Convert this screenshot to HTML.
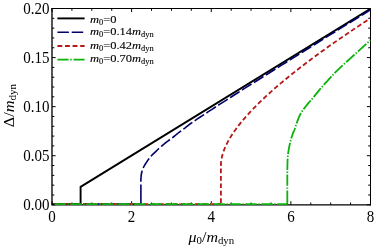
<!DOCTYPE html>
<html><head><meta charset="utf-8"><style>
html,body{margin:0;padding:0;background:#fff;}
svg{display:block;will-change:transform;font-family:"Liberation Serif",serif;}
</style></head><body>
<svg width="374" height="248" viewBox="0 0 374 248">
<rect width="374" height="248" fill="#fff"/>
<path d="M52.0 8.5 H370.5 V204.8" fill="none" stroke="#000" stroke-width="1.0" stroke-linecap="square"/>
<path d="M52.0 8.0 V204.8 H371.0" fill="none" stroke="#000" stroke-width="1.33"/>
<path d="M52.00 204.80 v-3.60 M52.00 8.50 v3.60 M71.91 204.80 v-2.30 M71.91 8.50 v2.30 M91.81 204.80 v-2.30 M91.81 8.50 v2.30 M111.72 204.80 v-2.30 M111.72 8.50 v2.30 M131.62 204.80 v-3.60 M131.62 8.50 v3.60 M151.53 204.80 v-2.30 M151.53 8.50 v2.30 M171.44 204.80 v-2.30 M171.44 8.50 v2.30 M191.34 204.80 v-2.30 M191.34 8.50 v2.30 M211.25 204.80 v-3.60 M211.25 8.50 v3.60 M231.16 204.80 v-2.30 M231.16 8.50 v2.30 M251.06 204.80 v-2.30 M251.06 8.50 v2.30 M270.97 204.80 v-2.30 M270.97 8.50 v2.30 M290.88 204.80 v-3.60 M290.88 8.50 v3.60 M310.78 204.80 v-2.30 M310.78 8.50 v2.30 M330.69 204.80 v-2.30 M330.69 8.50 v2.30 M350.59 204.80 v-2.30 M350.59 8.50 v2.30 M370.50 204.80 v-3.60 M370.50 8.50 v3.60 M52.00 204.80 h3.60 M370.50 204.80 h-3.60 M52.00 194.99 h2.30 M370.50 194.99 h-2.30 M52.00 185.17 h2.30 M370.50 185.17 h-2.30 M52.00 175.36 h2.30 M370.50 175.36 h-2.30 M52.00 165.54 h2.30 M370.50 165.54 h-2.30 M52.00 155.73 h3.60 M370.50 155.73 h-3.60 M52.00 145.91 h2.30 M370.50 145.91 h-2.30 M52.00 136.10 h2.30 M370.50 136.10 h-2.30 M52.00 126.28 h2.30 M370.50 126.28 h-2.30 M52.00 116.47 h2.30 M370.50 116.47 h-2.30 M52.00 106.65 h3.60 M370.50 106.65 h-3.60 M52.00 96.84 h2.30 M370.50 96.84 h-2.30 M52.00 87.02 h2.30 M370.50 87.02 h-2.30 M52.00 77.21 h2.30 M370.50 77.21 h-2.30 M52.00 67.39 h2.30 M370.50 67.39 h-2.30 M52.00 57.58 h3.60 M370.50 57.58 h-3.60 M52.00 47.76 h2.30 M370.50 47.76 h-2.30 M52.00 37.95 h2.30 M370.50 37.95 h-2.30 M52.00 28.13 h2.30 M370.50 28.13 h-2.30 M52.00 18.31 h2.30 M370.50 18.31 h-2.30 M52.00 8.50 h3.60 M370.50 8.50 h-3.60" stroke="#000" stroke-width="1.0" fill="none"/>
<clipPath id="c"><rect x="52.0" y="8.5" width="318.8" height="197.3"/></clipPath>
<g fill="none" stroke-linejoin="round" clip-path="url(#c)">
<path d="M52.00 204.10 L80.60 204.10 L80.60 186.90 L370.50 8.69" stroke="#000" stroke-width="1.9" stroke-linejoin="miter"/>
<path d="M54.60 204.10 L140.90 204.10" stroke="#00006c" stroke-width="1.6" stroke-dasharray="11.3 2.8"/>
<path d="M54.60 204.10 L220.90 204.10" stroke="#b41818" stroke-width="1.8" stroke-dasharray="4.7 2.7"/>
<path d="M140.90 204.10 L140.90 184.60" stroke="#00006c" stroke-width="1.6"/>
<path d="M140.90 184.60 L140.90 184.37 L140.88 183.77 L140.87 182.91 L140.87 181.92 L140.88 180.91 L140.90 180.00 L140.94 179.04 L140.98 178.05 L141.04 177.04 L141.13 176.01 L141.24 175.00 L141.40 174.00 L141.60 173.02 L141.83 172.04 L142.09 171.06 L142.39 170.10 L142.72 169.14 L143.10 168.20 L143.54 167.25 L144.02 166.31 L144.54 165.39 L145.10 164.47 L145.69 163.54 L146.30 162.60 L147.02 161.52 L147.78 160.40 L148.59 159.28 L149.41 158.18 L150.25 157.11 L151.10 156.10 L151.89 155.23 L152.70 154.41 L153.52 153.62 L154.35 152.84 L155.18 152.07 L156.00 151.30 L156.80 150.54 L157.59 149.78 L158.38 149.03 L159.17 148.28 L159.98 147.54 L160.80 146.80 L161.65 146.06 L162.51 145.32 L163.38 144.59 L164.27 143.86 L165.17 143.13 L166.10 142.40 L167.14 141.61 L168.21 140.82 L169.31 140.02 L170.42 139.23 L171.52 138.42 L172.60 137.60 L173.67 136.75 L174.74 135.88 L175.80 135.00 L176.86 134.12 L177.93 133.25 L179.00 132.40 L180.09 131.57 L181.20 130.75 L182.32 129.94 L183.42 129.14 L184.49 128.36 L185.50 127.60 L186.27 126.99 L186.98 126.41 L187.66 125.85 L188.36 125.27 L189.12 124.66 L190.00 124.00 L191.65 122.82 L193.56 121.50 L195.62 120.11 L197.77 118.68 L199.93 117.26 L202.00 115.88 L204.00 114.55 L205.99 113.23 L207.99 111.92 L209.99 110.61 L212.00 109.30 L214.00 108.00 L215.99 106.72 L217.96 105.45 L219.94 104.19 L221.93 102.92 L223.95 101.64 L226.00 100.32 L228.22 98.89 L230.44 97.47 L232.68 96.02 L234.99 94.53 L237.42 92.97 L240.00 91.32 L243.75 88.94 L247.80 86.38 L252.05 83.70 L256.40 80.96 L260.75 78.22 L265.00 75.55 L269.10 72.97 L273.11 70.45 L277.13 67.93 L281.23 65.36 L285.49 62.70 L290.00 59.88 L296.12 56.05 L302.63 51.99 L309.40 47.77 L316.30 43.47 L323.21 39.16 L330.00 34.94 L337.67 30.17 L346.48 24.69 L355.29 19.22 L362.99 14.45 L368.43 11.07 L370.50 9.79" stroke="#00006c" stroke-width="1.6" stroke-dasharray="11.3 2.8" stroke-dashoffset="11.3"/>
<path d="M220.90 204.10 L220.90 166.10 L221.00 162.97 L221.20 161.00 L221.50 159.04 L221.90 157.07 L222.40 155.06 L223.10 152.72 L223.90 150.42 L224.90 147.91 L225.90 145.65 L227.40 142.61 L228.90 139.84 L230.90 136.47 L232.90 133.37 L234.90 130.46 L237.90 126.38 L240.90 122.57 L244.90 117.81 L248.90 113.33 L252.90 109.08 L256.90 105.00 L260.90 101.08 L265.90 96.36 L270.90 91.81 L275.90 87.41 L280.90 83.13 L290.90 74.90 L300.90 67.01 L310.90 59.42 L320.90 52.07 L330.90 44.92 L340.90 37.96 L350.90 31.15 L360.90 24.48 L370.50 18.19" stroke="#b41818" stroke-width="1.8" stroke-dasharray="4.7 2.7" stroke-dashoffset="-1.2"/>
<path d="M54.60 204.10 L287.30 204.10" stroke="#0cb20c" stroke-width="1.8" stroke-dasharray="11.3 1.6 1.4 1.6"/>
<path d="M287.30 204.10 L287.30 190.40" stroke="#0cb20c" stroke-width="1.8"/>
<path d="M287.30 190.40 L287.30 190.31 L287.30 190.04 L287.30 189.65 L287.30 189.16 L287.30 188.59 L287.30 188.00 L287.30 185.56 L287.30 182.10 L287.30 178.05 L287.31 173.79 L287.34 169.74 L287.40 166.30 L287.45 164.25 L287.50 162.34 L287.56 160.53 L287.64 158.79 L287.75 157.09 L287.90 155.40 L288.06 153.91 L288.25 152.46 L288.47 151.03 L288.70 149.64 L288.94 148.26 L289.20 146.90 L289.45 145.66 L289.71 144.45 L289.98 143.26 L290.27 142.07 L290.57 140.89 L290.90 139.70 L291.27 138.43 L291.67 137.11 L292.10 135.79 L292.52 134.53 L292.93 133.38 L293.30 132.40 L293.49 131.94 L293.67 131.55 L293.85 131.21 L294.02 130.86 L294.20 130.47 L294.40 130.00 L294.79 128.94 L295.20 127.69 L295.64 126.30 L296.11 124.85 L296.60 123.39 L297.10 122.00 L297.63 120.60 L298.17 119.19 L298.72 117.78 L299.32 116.37 L299.97 114.98 L300.70 113.60 L301.57 112.15 L302.53 110.72 L303.55 109.30 L304.62 107.90 L305.71 106.50 L306.80 105.10 L307.95 103.67 L309.13 102.26 L310.34 100.85 L311.57 99.44 L312.79 98.03 L314.00 96.60 L315.22 95.12 L316.43 93.63 L317.64 92.13 L318.86 90.63 L320.07 89.15 L321.30 87.70 L322.49 86.33 L323.68 84.98 L324.88 83.65 L326.09 82.33 L327.29 81.02 L328.50 79.70 L329.68 78.41 L330.82 77.15 L331.96 75.90 L333.15 74.63 L334.42 73.30 L335.80 71.90 L337.90 69.85 L340.18 67.68 L342.61 65.42 L345.15 63.09 L347.76 60.71 L350.40 58.30 L354.02 55.01 L358.34 51.11 L362.75 47.14 L366.65 43.64 L369.44 41.15 L370.50 40.20" stroke="#0cb20c" stroke-width="1.8" stroke-dasharray="11.3 1.6 1.4 1.6" stroke-dashoffset="11.3"/>
</g>
<g font-size="15.7" fill="#000"><text transform="translate(52.0,222.3) scale(0.955,1)" text-anchor="middle">0</text><text transform="translate(131.6,222.3) scale(0.955,1)" text-anchor="middle">2</text><text transform="translate(211.2,222.3) scale(0.955,1)" text-anchor="middle">4</text><text transform="translate(290.9,222.3) scale(0.955,1)" text-anchor="middle">6</text><text transform="translate(370.5,222.3) scale(0.955,1)" text-anchor="middle">8</text><text transform="translate(49.6,209.9) scale(0.955,1)" text-anchor="end">0.00</text><text transform="translate(49.6,160.8) scale(0.955,1)" text-anchor="end">0.05</text><text transform="translate(49.6,111.8) scale(0.955,1)" text-anchor="end">0.10</text><text transform="translate(49.6,62.7) scale(0.955,1)" text-anchor="end">0.15</text><text transform="translate(49.6,13.6) scale(0.955,1)" text-anchor="end">0.20</text></g>
<path d="M57.4 18.4 H84.6" stroke="#000" stroke-width="1.9"  fill="none"/><text transform="translate(90,22.7) scale(1.135,1)" font-size="11" stroke="#000" stroke-width="0.1"><tspan font-style="italic">m</tspan><tspan font-size="7.4" dy="2">0</tspan><tspan dy="-2">=0</tspan></text><path d="M57.4 32.2 H84.6" stroke="#00006c" stroke-width="1.6" stroke-dasharray="11.5 2.8" fill="none"/><text transform="translate(90,35.0) scale(1.135,1)" font-size="11" stroke="#000" stroke-width="0.1"><tspan font-style="italic">m</tspan><tspan font-size="7.4" dy="2">0</tspan><tspan dy="-2">=0.14</tspan><tspan font-style="italic">m</tspan><tspan font-size="7.4" dy="2">dyn</tspan></text><path d="M57.4 46.0 H84.6" stroke="#b41818" stroke-width="1.8" stroke-dasharray="4.85 2.75" fill="none"/><text transform="translate(90,48.8) scale(1.135,1)" font-size="11" stroke="#000" stroke-width="0.1"><tspan font-style="italic">m</tspan><tspan font-size="7.4" dy="2">0</tspan><tspan dy="-2">=0.42</tspan><tspan font-style="italic">m</tspan><tspan font-size="7.4" dy="2">dyn</tspan></text><path d="M57.4 59.6 H84.6" stroke="#0cb20c" stroke-width="1.8" stroke-dasharray="11.2 1.6 1.5 1.8" fill="none"/><text transform="translate(90,62.4) scale(1.135,1)" font-size="11" stroke="#000" stroke-width="0.1"><tspan font-style="italic">m</tspan><tspan font-size="7.4" dy="2">0</tspan><tspan dy="-2">=0.70</tspan><tspan font-style="italic">m</tspan><tspan font-size="7.4" dy="2">dyn</tspan></text>
<text transform="translate(188.5,241.7) scale(1.143,1)" font-size="14" fill="#000"><tspan font-style="italic">μ</tspan><tspan font-size="9.5" dy="2.2">0</tspan><tspan dy="-2.2">/</tspan><tspan font-style="italic">m</tspan><tspan font-size="9.5" dy="2.2">dyn</tspan></text>
<text transform="translate(14.2,127.3) rotate(-90) scale(1.165,1)" font-size="14" fill="#000">Δ/<tspan font-style="italic">m</tspan><tspan font-size="9.5" dy="2.2">dyn</tspan></text>
</svg>
</body></html>
